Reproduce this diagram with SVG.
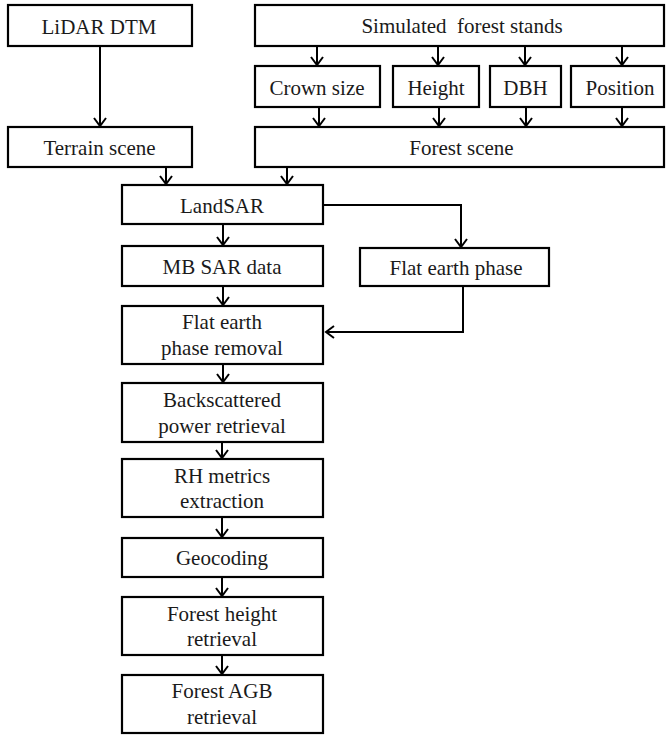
<svg xmlns="http://www.w3.org/2000/svg" width="666" height="737" viewBox="0 0 666 737">
<defs>
<marker id="arr" markerUnits="userSpaceOnUse" markerWidth="20" markerHeight="20" viewBox="-10 -10 20 20" refX="0" refY="0" orient="auto">
<path d="M-8,-6 L0,0 L-8,6" fill="none" stroke="#000" stroke-width="2"/>
</marker>
</defs>
<style>
.box{fill:#fff;stroke:#000;stroke-width:2.2}
.t{font-family:'Liberation Serif','Times New Roman','DejaVu Serif',serif;font-size:21px;fill:#1a1a1a;text-anchor:middle}
.c{fill:none;stroke:#000;stroke-width:2;marker-end:url(#arr)}
</style>
<rect width="666" height="737" fill="#fff"/>
<g id="connectors">
<path class="c" d="M100,46 V126"/>
<path class="c" d="M317,46 V65"/>
<path class="c" d="M438,46 V65"/>
<path class="c" d="M525,46 V65"/>
<path class="c" d="M622,46 V65"/>
<path class="c" d="M319,107 V126"/>
<path class="c" d="M439,107 V126"/>
<path class="c" d="M526,107 V126"/>
<path class="c" d="M622,107 V126"/>
<path class="c" d="M166,167 V184"/>
<path class="c" d="M287,167 V184"/>
<path class="c" d="M223,224 V245"/>
<path class="c" d="M323,205 H461 V247"/>
<path class="c" d="M223,286 V305"/>
<path class="c" d="M463,286 V332 H326"/>
<path class="c" d="M223,364 V382"/>
<path class="c" d="M222,442 V458"/>
<path class="c" d="M222,517 V537"/>
<path class="c" d="M222,577 V596"/>
<path class="c" d="M222,655 V674"/>
</g>
<g id="lidar"><rect class="box" x="8" y="5" width="184" height="41"/><text class="t" x="99" y="34">LiDAR DTM</text></g>
<g id="stands"><rect class="box" x="255" y="5" width="409" height="41"/><text class="t" x="462" y="33" xml:space="preserve">Simulated  forest stands</text></g>
<g id="crown"><rect class="box" x="255" y="66" width="125" height="41"/><text class="t" x="317" y="95">Crown size</text></g>
<g id="height"><rect class="box" x="393" y="66" width="86" height="41"/><text class="t" x="436" y="95">Height</text></g>
<g id="dbh"><rect class="box" x="490" y="66" width="71" height="41"/><text class="t" x="525.5" y="95">DBH</text></g>
<g id="position"><rect class="box" x="571" y="66" width="93" height="41"/><text class="t" x="620" y="95">Position</text></g>
<g id="terrain"><rect class="box" x="8" y="127" width="184" height="40"/><text class="t" x="99.5" y="155">Terrain scene</text></g>
<g id="forestscene"><rect class="box" x="255" y="127" width="409" height="40"/><text class="t" x="461.5" y="155">Forest scene</text></g>
<g id="landsar"><rect class="box" x="122" y="185" width="201" height="39"/><text class="t" x="222" y="213">LandSAR</text></g>
<g id="mbsar"><rect class="box" x="122" y="246" width="201" height="40"/><text class="t" x="222" y="274">MB SAR data</text></g>
<g id="flatphase"><rect class="box" x="360" y="248" width="189" height="38"/><text class="t" x="456" y="275">Flat earth phase</text></g>
<g id="removal"><rect class="box" x="122" y="306" width="201" height="58"/><text class="t" x="222" y="329">Flat earth</text><text class="t" x="222" y="355">phase removal</text></g>
<g id="backscatter"><rect class="box" x="122" y="383" width="201" height="59"/><text class="t" x="222" y="407">Backscattered</text><text class="t" x="222" y="433">power retrieval</text></g>
<g id="rh"><rect class="box" x="122" y="459" width="201" height="58"/><text class="t" x="222" y="483">RH metrics</text><text class="t" x="222" y="508">extraction</text></g>
<g id="geocoding"><rect class="box" x="122" y="538" width="201" height="39"/><text class="t" x="222" y="565">Geocoding</text></g>
<g id="fheight"><rect class="box" x="122" y="597" width="201" height="58"/><text class="t" x="222" y="621">Forest height</text><text class="t" x="222" y="646">retrieval</text></g>
<g id="agb"><rect class="box" x="122" y="675" width="201" height="58"/><text class="t" x="222" y="698">Forest AGB</text><text class="t" x="222" y="724">retrieval</text></g>
</svg>
